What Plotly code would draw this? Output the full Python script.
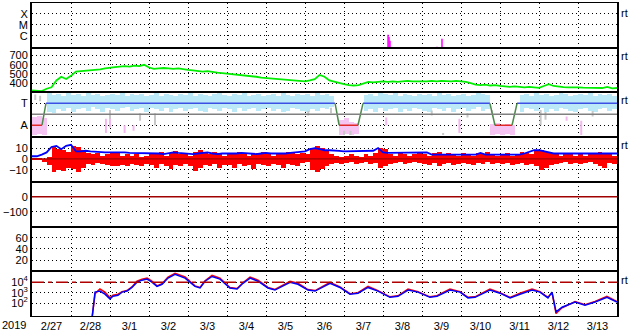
import pandas as pd
import plotly.graph_objects as go
from plotly.subplots import make_subplots

START = pd.Timestamp("2019-02-27 00:00")
END = pd.Timestamp("2019-03-14 00:00")
BIN_H = 3  # hours per sample bin

# ---------------- data ----------------
# X-ray flares (log10 flux), hours since 2/27 00:00
flare_hours = [219.1, 219.7, 220.3, 249.2, 252.3]
flare_level = [-5.9, -6.1, -6.45, -7.0, -6.27]

# solar wind speed (km/s), one value every 3 h
wind_speed = [
    322, 320, 315, 340, 356, 430, 470, 445,
    480, 525, 530, 528, 535, 540, 550, 560,
    570, 575, 580, 585, 580, 590, 585, 600,
    570, 555, 560, 565, 560, 555, 560, 550,
    545, 540, 530, 525, 530, 520, 515, 510,
    505, 500, 495, 490, 485, 480, 470, 460,
    455, 450, 445, 440, 440, 435, 430, 425,
    420, 430, 445, 490, 470, 430, 415, 405,
    390, 380, 375, 380, 400, 415, 410, 415,
    420, 415, 420, 415, 420, 425, 420, 420,
    415, 420, 425, 420, 425, 420, 420, 425,
    420, 415, 400, 385, 380, 385, 375, 380,
    370, 365, 360, 365, 360, 355, 360, 355,
    350, 370, 390, 370, 360, 358, 355, 358,
    355, 352, 350, 352, 350, 348, 360, 345,
    348]

# IMF sector (T = +1, A = -1)
sector_hours = [0, 6.15, 8.6, 186.5, 189, 200.6, 203.7, 281.8, 284.9, 295.4, 298.5, 360]
sector_dir = [-1, -1, 1, 1, -1, -1, 1, 1, -1, -1, 1, 1]

# light-blue angle scatter band (per 3 h bin)
N = None
phi_lo = [
    N, N, N, 0.2, 0.1, 0.4, 0.3, 0.5,
    0.2, 0.4, 0.5, 0.3, 0.6, 0.4, 0.2, 0.5,
    0.4, 0.3, 0.5, 0.6, 0.3, 0.4, 0.5, 0.2,
    0.5, 0.4, 0.3, 0.5, 0.2, 0.4, 0.5, 0.3,
    0.4, 0.5, 0.3, 0.2, 0.5, 0.4, 0.3, 0.5,
    0.4, 0.2, 0.5, 0.3, 0.4, 0.5, 0.3, 0.4,
    0.5, 0.3, 0.4, 0.2, 0.3, 0.5, 0.4, 0.3,
    0.2, 0.4, 0.3, 0.5, 0.4, 0.6, N, N,
    N, N, N, N, 0.3, 0.4, 0.2, 0.5,
    0.3, 0.4, 0.5, 0.2, 0.4, 0.3, 0.5, 0.4,
    0.3, 0.2, 0.5, 0.4, 0.3, 0.5, 0.2, 0.4,
    0.5, 0.3, 0.4, 0.6, 0.3, 0.4, N, N,
    N, N, N, N, 0.2, 0.5, 0.4, 0.3,
    0.5, 0.2, 0.4, 0.3, 0.5, 0.4, 0.3, 0.2,
    0.4, 0.5, 0.3, 0.2, 0.4, 0.5, 0.3, 0.4,
    0.4]
phi_hi = [
    N, N, N, 1.9, 1.7, 1.8, 1.6, 1.9,
    1.7, 1.8, 1.6, 1.9, 1.7, 1.8, 1.6, 1.7,
    1.8, 1.7, 1.9, 1.6, 1.8, 1.7, 1.8, 1.6,
    1.7, 1.9, 1.6, 1.8, 1.7, 1.6, 1.8, 1.7,
    1.9, 1.6, 1.8, 1.7, 1.6, 1.8, 1.9, 1.7,
    1.6, 1.8, 1.7, 1.9, 1.6, 1.7, 1.8, 1.6,
    1.7, 1.8, 1.6, 1.9, 1.7, 1.6, 1.8, 1.7,
    1.8, 1.6, 1.9, 1.7, 1.8, 1.6, N, N,
    N, N, N, N, 1.7, 1.8, 1.6, 1.9,
    1.8, 1.7, 1.9, 1.6, 1.8, 1.7, 1.6, 1.8,
    1.7, 1.8, 1.6, 1.9, 1.7, 1.8, 1.6, 1.7,
    1.8, 1.6, 1.7, 1.9, 1.8, 1.7, N, N,
    N, N, N, N, 1.7, 1.8, 1.6, 1.9,
    1.7, 1.8, 1.6, 1.7, 1.9, 1.8, 1.6, 1.7,
    1.8, 1.7, 1.9, 1.6, 1.8, 1.7, 1.8, 1.6,
    1.7]

# pink (away-like) points: dense bins and sparse specks
pink_bin_hours = [1.5, 4.5, 7.5, 190.5, 193.5, 196.5, 199.5, 283.5, 286.5, 289.5, 292.5, 295.5]
pink_bin_lo = [-1.9, -1.8, -1.9, -1.9, -1.8, -1.9, -1.8, -1.9, -1.8, -1.9, -1.8, -1.9]
pink_bin_hi = [-0.3, -0.2, -0.4, -0.6, -0.4, -0.7, -0.8, -0.9, -0.8, -1.0, -0.9, -1.0]
pink_spk_hours = [45.5, 48.0, 57.0, 62.5, 218.0, 263.0, 329.0, 338.0]
pink_spk_lo = [-1.7, -1.2, -1.7, -1.5, -1.0, -1.7, -0.6, -1.9]
pink_spk_hi = [-0.4, -0.3, -1.0, -1.0, -0.3, -0.4, -0.2, -0.6]

# gray specks
gray_hours = [2.0, 5.0, 48.0, 66.5, 75.7, 170.0, 184.0, 192.0, 196.0, 246.0, 253.0, 268.0, 283.0, 313.0, 316.0, 345.0]
gray_lo = [1.3, 1.2, -0.4, -0.6, -1.0, -0.1, 0.1, -1.9, -1.9, -0.1, -1.9, -0.3, 0.1, -1.0, -0.5, -0.2]
gray_hi = [1.8, 1.7, 0.4, 0.1, 0.1, 0.3, 0.6, -1.5, -1.5, 0.35, -1.7, 0.1, 0.4, 0.4, 0.2, 0.3]

# IMF Bt (nT), every 3 h
bt = [
    2.5, 2.5, 4, 6, 11, 12, 9, 12,
    13, 7, 7, 7.5, 7, 6.5, 6.5, 6,
    6, 6, 6.5, 6, 5.5, 5.5, 5.5, 5,
    5, 5.5, 5, 4.5, 5, 6, 5.5, 5,
    5, 4.5, 5, 5.5, 6, 5, 4.5, 5,
    5, 4.5, 5, 5.5, 5, 4.5, 4.5, 5,
    5.5, 5, 5, 4.5, 5, 5.5, 6, 7,
    7, 9, 10, 9, 8, 8, 8, 7.5,
    7, 7, 7, 7, 7, 7, 7.5, 10,
    6, 5.5, 5.5, 5.5, 5.5, 5.5, 5.5, 5.5,
    6, 6, 4, 4, 4, 4, 4.5, 4,
    4, 4, 4, 4, 5.5, 4, 4, 4,
    4, 4, 4, 4, 4, 5, 6.5, 8,
    8, 7, 6, 5, 5, 5, 4.5, 5,
    5, 4.5, 5, 5, 4.5, 5, 5, 4.5,
    5]
# IMF Bz (nT) high / low within each 3 h bin
bz_hi = [
    1, 1, 0, 2, 12, 9, 8, 6,
    12, 11, 8, 5, 4, 5, 3, 4,
    6, 5, 3, 4, 3, 4, 2, 3,
    5, 4, 6, 3, 5, 7, 4, 5,
    3, 6, 8, 5, 4, 6, 5, 3,
    5, 4, 6, 5, 3, 4, 5, 6,
    4, 3, 5, 4, 6, 5, 4, 5,
    4, 10, 12, 10, 8, 4, 3, 2,
    3, 4, 3, 2, 4, 3, 5, 10,
    9, 4, 3, 5, 4, 3, 4, 5,
    4, 3, 5, 6, 4, 5, 4, 3,
    5, 4, 3, 5, 4, 6, 4, 3,
    4, 5, 3, 4, 6, 5, 4, 7,
    8, 6, 5, 4, 3, 5, 4, 3,
    4, 3, 5, 4, 6, 5, 4, 3,
    3]
bz_lo = [
    -1, -1, -3, -6, -12, -10, -11, -8,
    -9, -12, -8, -5, -6, -4, -5, -6,
    -7, -7, -6, -7, -5, -6, -7, -5,
    -6, -8, -5, -7, -9, -6, -7, -5,
    -7, -11, -8, -6, -7, -5, -8, -6,
    -6, -8, -5, -7, -6, -9, -5, -6,
    -7, -5, -6, -8, -5, -6, -7, -4,
    -3, -10, -12, -9, -7, -5, -4, -5,
    -4, -3, -5, -4, -3, -5, -4, -8,
    -7, -5, -4, -3, -5, -4, -3, -4,
    -5, -6, -4, -7, -5, -4, -6, -5,
    -4, -5, -6, -4, -5, -3, -5, -4,
    -5, -4, -6, -5, -4, -6, -5, -7,
    -10, -8, -6, -5, -4, -3, -5, -4,
    -5, -4, -3, -5, -7, -8, -4, -5,
    -3]

# electron flux (log10), two channels
e_hours = [36.9, 38.8, 41.8, 44.9, 48, 49.8, 52.9, 55.4, 58.5, 61.5, 64.6, 67.7, 70.8, 73.8,
           76.9, 80, 83.7, 88, 94.2, 100.3, 103.4, 106.5, 110.8, 115.7, 121.8, 126.2, 129.8,
           134.2, 139.1, 145.2, 149.5, 153.8, 158.8, 163.7, 169.8, 174.2, 178.5, 183.4, 189.5,
           195.7, 200.6, 206.8, 212.9, 220.3, 225.2, 231.4, 237.5, 244.9, 249.2, 257.2, 263.4,
           268.3, 272.6, 281.8, 288, 294.2, 300.3, 307.7, 312.6, 317.5, 320, 322.5, 326.2,
           334.2, 340.3, 346.5, 353.8, 360]
e_blue = [0.5, 3.05, 3.15, 2.85, 2.4, 2.65, 2.75, 3.05, 3.15, 3.5, 4.0, 4.2, 4.3, 4.0, 3.6, 3.8,
          4.4, 4.75, 4.4, 3.6, 3.45, 4.1, 4.55, 4.3, 3.45, 3.35, 3.9, 4.4, 4.1, 3.45, 3.25, 3.6,
          4.0, 3.8, 3.25, 3.15, 3.5, 3.9, 3.5, 2.85, 2.95, 3.5, 3.15, 2.55, 2.65, 3.25, 3.05,
          2.55, 2.65, 3.25, 3.05, 2.5, 2.55, 3.25, 2.95, 2.5, 2.85, 3.25, 3.05, 2.5, 3.05, 1.15,
          1.6, 2.1, 1.8, 2.1, 2.55, 2.1]
e_red = [0.5, 2.9, 3.35, 3.05, 2.5, 2.75, 2.85, 3.1, 3.2, 3.55, 4.1, 4.3, 4.4, 4.1, 3.65, 3.85,
         4.5, 4.85, 4.5, 3.65, 3.5, 4.15, 4.65, 4.4, 3.5, 3.4, 3.95, 4.5, 4.2, 3.5, 3.3, 3.65,
         4.1, 3.9, 3.3, 3.2, 3.55, 4.0, 3.55, 2.9, 3.0, 3.6, 3.2, 2.6, 2.7, 3.35, 3.1, 2.6, 2.7,
         3.35, 3.1, 2.55, 2.6, 3.35, 3.0, 2.55, 2.95, 3.35, 3.1, 2.55, 3.0, 1.0, 1.55, 2.15,
         1.85, 2.15, 2.65, 2.15]

# axis tick definitions
xray_ticks = [-6, -5, -4]
xray_text = ["C", "M", "X"]
wind_ticks = [400, 500, 600, 700]
sector_ticks = [1, -1]
sector_text = ["T", "A"]
bz_ticks = [10, 0, -10]
dst_ticks = [0, -100]
kp_ticks = [20, 40, 60]
e_ticks = [2, 3, 4]
e_text = ["10<sup>2</sup>", "10<sup>3</sup>", "10<sup>4</sup>"]

# ---------------- figure ----------------
def t(h):
    return START + pd.Timedelta(hours=h)

bin_times = [t(i * BIN_H) for i in range(len(wind_speed))]
BIN_MS = BIN_H * 3600e3
FONT = "Liberation Sans, Arial, sans-serif"
XRAY_RANGE = [-7.09, -3.0]

fig = make_subplots(rows=7, cols=1, shared_xaxes=True, vertical_spacing=0)

# empty placeholder traces so every panel draws its frame and grid
for r in range(1, 8):
    fig.add_trace(go.Scatter(x=[START, END], y=[None, None], mode="lines", hoverinfo="skip"),
                  row=r, col=1)

# row 1: flares
fx, fy = [], []
for h, v in zip(flare_hours, flare_level):
    fx += [t(h), t(h), None]
    fy += [XRAY_RANGE[0], v, None]
fig.add_trace(go.Scatter(x=fx, y=fy, mode="lines", line=dict(color="#ff00ff", width=1.5)), row=1, col=1)

# row 2: wind speed
fig.add_trace(go.Scatter(x=bin_times, y=wind_speed, mode="lines",
                         line=dict(color="#00ee00", width=1.8)), row=2, col=1)

# row 3: sector
bx, bb, by = [], [], []
for i, (lo, hi) in enumerate(zip(phi_lo, phi_hi)):
    if lo is None:
        continue
    bx.append(t(i * BIN_H + BIN_H / 2)); bb.append(lo); by.append(hi - lo)
fig.add_trace(go.Bar(x=bx, y=by, base=bb, width=BIN_MS,
                     marker=dict(color="#bce9f7", line=dict(width=0))), row=3, col=1)
fig.add_trace(go.Bar(x=[t(h) for h in pink_bin_hours],
                     y=[h - l for l, h in zip(pink_bin_lo, pink_bin_hi)], base=pink_bin_lo,
                     width=BIN_MS,
                     marker=dict(color="#f6c4f2", line=dict(width=0))), row=3, col=1)
px, py = [], []
for h, lo, hi in zip(pink_spk_hours, pink_spk_lo, pink_spk_hi):
    px += [t(h), t(h), None]; py += [lo, hi, None]
fig.add_trace(go.Scatter(x=px, y=py, mode="lines", line=dict(color="#f4b8f0", width=2)), row=3, col=1)
gx, gy = [], []
for h, lo, hi in zip(gray_hours, gray_lo, gray_hi):
    gx += [t(h), t(h), None]; gy += [lo, hi, None]
fig.add_trace(go.Scatter(x=gx, y=gy, mode="lines", line=dict(color="#c8c8c8", width=2)), row=3, col=1)
fig.add_hline(y=0, row=3, col=1, line=dict(color="#808080", width=1.5), layer="above")
for i in range(len(sector_hours) - 1):
    a, b = sector_dir[i], sector_dir[i + 1]
    col = "#3c50e6" if (a == b and a > 0) else ("#e02828" if a == b else "#4a8a4a")
    fig.add_trace(go.Scatter(x=[t(sector_hours[i]), t(sector_hours[i + 1])], y=[a, b],
                             mode="lines", line=dict(color=col, width=1.5)), row=3, col=1)

# row 4: Bz (range within each bin) / Bt
fig.add_trace(go.Bar(x=[t(i * BIN_H + BIN_H / 2) for i in range(len(bz_hi))],
                     y=[h - l for h, l in zip(bz_hi, bz_lo)], base=bz_lo, width=BIN_MS,
                     marker=dict(color="#ff0000", line=dict(width=0))), row=4, col=1)
fig.add_hline(y=0, row=4, col=1, line=dict(color="#a00000", width=1.2), layer="above")
fig.add_trace(go.Scatter(x=bin_times, y=bt, mode="lines", line=dict(color="#0000ff", width=1.8)), row=4, col=1)

# row 5: Dst reference
fig.add_hline(y=0, row=5, col=1, line=dict(color="#a00000", width=1.5))

# row 7: electrons
fig.add_hline(y=4, row=7, col=1, line=dict(color="#b00000", width=1.5, dash="12px,4px,4px,4px"))
fig.add_trace(go.Scatter(x=[t(h) for h in e_hours], y=e_red, mode="lines",
                         line=dict(color="#ff0000", width=1.5)), row=7, col=1)
fig.add_trace(go.Scatter(x=[t(h) for h in e_hours], y=e_blue, mode="lines",
                         line=dict(color="#0000ff", width=1.5)), row=7, col=1)

grid_common = dict(showgrid=True, gridcolor="black", gridwidth=1, griddash="1px,3px",
                   zeroline=False, ticks="", showline=True, mirror=True, linecolor="black",
                   tickfont=dict(family=FONT, size=11, color="black"), fixedrange=True)
yspec = [
    dict(range=XRAY_RANGE, tickvals=xray_ticks, ticktext=xray_text),
    dict(range=[300, 785], tickvals=wind_ticks),
    dict(range=[-2.09, 2.0], tickvals=sector_ticks, ticktext=sector_text),
    dict(range=[-21, 20], tickvals=bz_ticks),
    dict(range=[-200, 100], tickvals=dst_ticks),
    dict(range=[0, 80], tickvals=kp_ticks),
    dict(range=[0.76, 5.05], tickvals=e_ticks, ticktext=e_text),
]
for r in range(1, 8):
    fig.update_yaxes(row=r, col=1, linewidth=2, **grid_common, **yspec[r - 1])
    fig.update_xaxes(row=r, col=1, linewidth=1, **grid_common, range=[START, END], tick0=START,
                     dtick=86400000, tickformat="%-m/%-d", ticklabelmode="period",
                     showticklabels=(r == 7))

H_PLOT = 315
ann = []
for ypx in [12, 55, 100, 145, 281]:
    ann.append(dict(text="rt", xref="paper", yref="paper", x=1.004, xanchor="left",
                    y=(317 - ypx) / H_PLOT, yanchor="middle", showarrow=False,
                    font=dict(family=FONT, size=11, color="black")))
ann.append(dict(text="2019", xref="paper", yref="paper", x=(14 - 32) / 585, xanchor="center",
                y=(317 - 326) / H_PLOT, yanchor="middle", showarrow=False,
                font=dict(family=FONT, size=11, color="black")))

fig.update_layout(width=633, height=334, margin=dict(l=32, r=16, t=2, b=17),
                  paper_bgcolor="white", plot_bgcolor="white", showlegend=False,
                  barmode="overlay", bargap=0, annotations=ann)
fig.write_html("out.html")
